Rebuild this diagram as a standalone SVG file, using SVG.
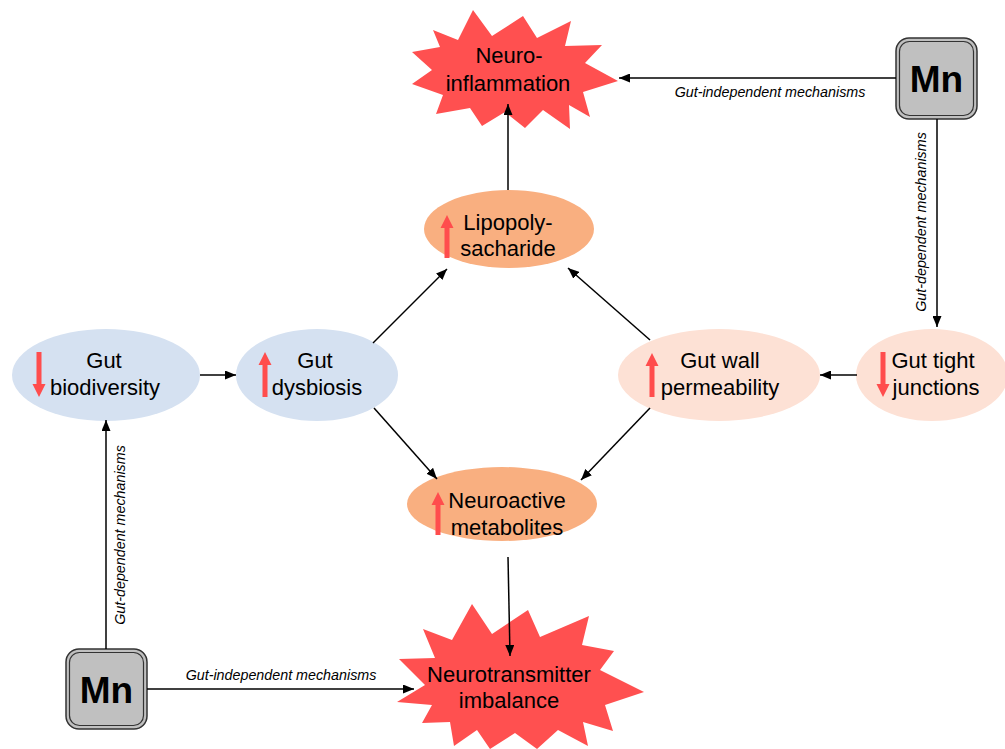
<svg xmlns="http://www.w3.org/2000/svg" width="1005" height="749" viewBox="0 0 1005 749">
<style>
.lbl{font-family:"Liberation Sans",Arial,sans-serif;font-size:22px;fill:#000;text-anchor:middle}
.mn{font-family:"Liberation Sans",Arial,sans-serif;font-size:37px;font-weight:bold;fill:#000;text-anchor:middle}
.cl{font-family:"Liberation Sans",Arial,sans-serif;font-size:14.3px;font-style:italic;fill:#000;text-anchor:middle}
.star{fill:#ff5050;stroke:none}
.blue{fill:#d5e1f1}
.peach{fill:#fde1d5}
.orange{fill:#f9af80}
.red{fill:#ff4d4d}
.box{fill:#c0c0c0;stroke:#333;stroke-width:1.5}
.boxin{fill:none;stroke:#333;stroke-width:1.2}
.conn{stroke:#000;stroke-width:1.5;fill:none;marker-end:url(#ah)}
</style>
<defs>
<marker id="ah" markerUnits="userSpaceOnUse" markerWidth="11" markerHeight="9" refX="11" refY="4.5" orient="auto">
<path d="M0,0 L11,4.5 L0,9 Z" fill="#000"/>
</marker>
</defs>
<rect width="1005" height="749" fill="#fff"/>

<g id="neuroinflammation">
<polygon class="star" points="433,30 458,40 473,10 492,36 523,16 537,38 571,21 565,46 602,45 585,63 618,81 583,92 590,117 569,105 570,129 543,110 525,128 505,112 482,126 470,108 436,114 443,95 412,84 432,70 412,52 440,47"/>
<text class="lbl" x="509" y="63">Neuro-</text>
<text class="lbl" x="508" y="91">inflammation</text>
</g>

<g id="neurotransmitter">
<polygon class="star" points="423,629 452,640 472,604 492,634 528,610 540,637 589,616 582,645 614,651 600,670 644,692 605,705 613,731 583,722 588,746 558,730 537,749 515,733 490,749 477,730 454,746 450,722 422,723 432,705 397,702 425,685 399,659 435,658"/>
<text class="lbl" x="509" y="682">Neurotransmitter</text>
<text class="lbl" x="509" y="708">imbalance</text>
</g>

<g id="mn-top">
<rect class="box" x="896" y="38" width="81" height="81" rx="13"/>
<rect class="boxin" x="899.5" y="41.5" width="74" height="74" rx="10"/>
<text class="mn" x="936.5" y="92">Mn</text>
</g>

<g id="mn-bottom">
<rect class="box" x="66" y="649" width="81" height="80" rx="13"/>
<rect class="boxin" x="69.5" y="652.5" width="74" height="73" rx="10"/>
<text class="mn" x="106.5" y="703">Mn</text>
</g>

<g id="gut-biodiversity">
<ellipse class="blue" cx="106" cy="375" rx="94" ry="46"/>
<path class="red" d="M36.5,352 L41.5,352 L41.5,384 L45.5,384 L39,397 L32.5,384 L36.5,384 Z"/>
<text class="lbl" x="104" y="368">Gut</text>
<text class="lbl" x="105" y="395">biodiversity</text>
</g>

<g id="gut-dysbiosis">
<ellipse class="blue" cx="317" cy="375" rx="81" ry="46"/>
<path class="red" d="M262.5,397 L262.5,365 L258.5,365 L265,352 L271.5,365 L267.5,365 L267.5,397 Z"/>
<text class="lbl" x="315" y="368">Gut</text>
<text class="lbl" x="317" y="395">dysbiosis</text>
</g>

<g id="lipopolysacharide">
<ellipse class="orange" cx="509" cy="229" rx="85" ry="39"/>
<path class="red" d="M444.5,258 L444.5,228 L440.5,228 L447,215 L453.5,228 L449.5,228 L449.5,258 Z"/>
<text class="lbl" x="508" y="230">Lipopoly-</text>
<text class="lbl" x="508" y="256">sacharide</text>
</g>

<g id="gut-wall-permeability">
<ellipse class="peach" cx="719" cy="375" rx="101" ry="46"/>
<path class="red" d="M649.5,397 L649.5,366 L645.5,366 L652,353 L658.5,366 L654.5,366 L654.5,397 Z"/>
<text class="lbl" x="720" y="368">Gut wall</text>
<text class="lbl" x="720" y="395">permeability</text>
</g>

<g id="gut-tight-junctions">
<ellipse class="peach" cx="932" cy="375" rx="76" ry="46"/>
<path class="red" d="M880.5,352 L885.5,352 L885.5,384 L889.5,384 L883,397 L876.5,384 L880.5,384 Z"/>
<text class="lbl" x="933" y="368">Gut tight</text>
<text class="lbl" x="936" y="395">junctions</text>
</g>

<g id="neuroactive-metabolites">
<ellipse class="orange" cx="502" cy="504" rx="95" ry="37"/>
<path class="red" d="M435.5,535 L435.5,505 L431.5,505 L438,492 L444.5,505 L440.5,505 L440.5,535 Z"/>
<text class="lbl" x="507" y="508">Neuroactive</text>
<text class="lbl" x="507" y="535">metabolites</text>
</g>

<g id="connectors">
<path class="conn" d="M896,78 L619,78"/>
<path class="conn" d="M937,119 L937,327"/>
<path class="conn" d="M857,375 L820,375"/>
<path class="conn" d="M200,375 L236,375"/>
<path class="conn" d="M373,343 L447,269"/>
<path class="conn" d="M374,408 L437,479"/>
<path class="conn" d="M650,340 L568,268"/>
<path class="conn" d="M650,408 L581,480"/>
<path class="conn" d="M508,190 L508,104"/>
<path class="conn" d="M508,557 L510,656"/>
<path class="conn" d="M147,689 L414,689"/>
<path class="conn" d="M106,649 L106,420"/>
<text class="cl" x="770" y="97">Gut-independent mechanisms</text>
<text class="cl" x="281" y="680">Gut-independent mechanisms</text>
<text class="cl" transform="translate(926,222) rotate(-90)">Gut-dependent mechanisms</text>
<text class="cl" transform="translate(125,535) rotate(-90)">Gut-dependent mechanisms</text>
</g>
</svg>
